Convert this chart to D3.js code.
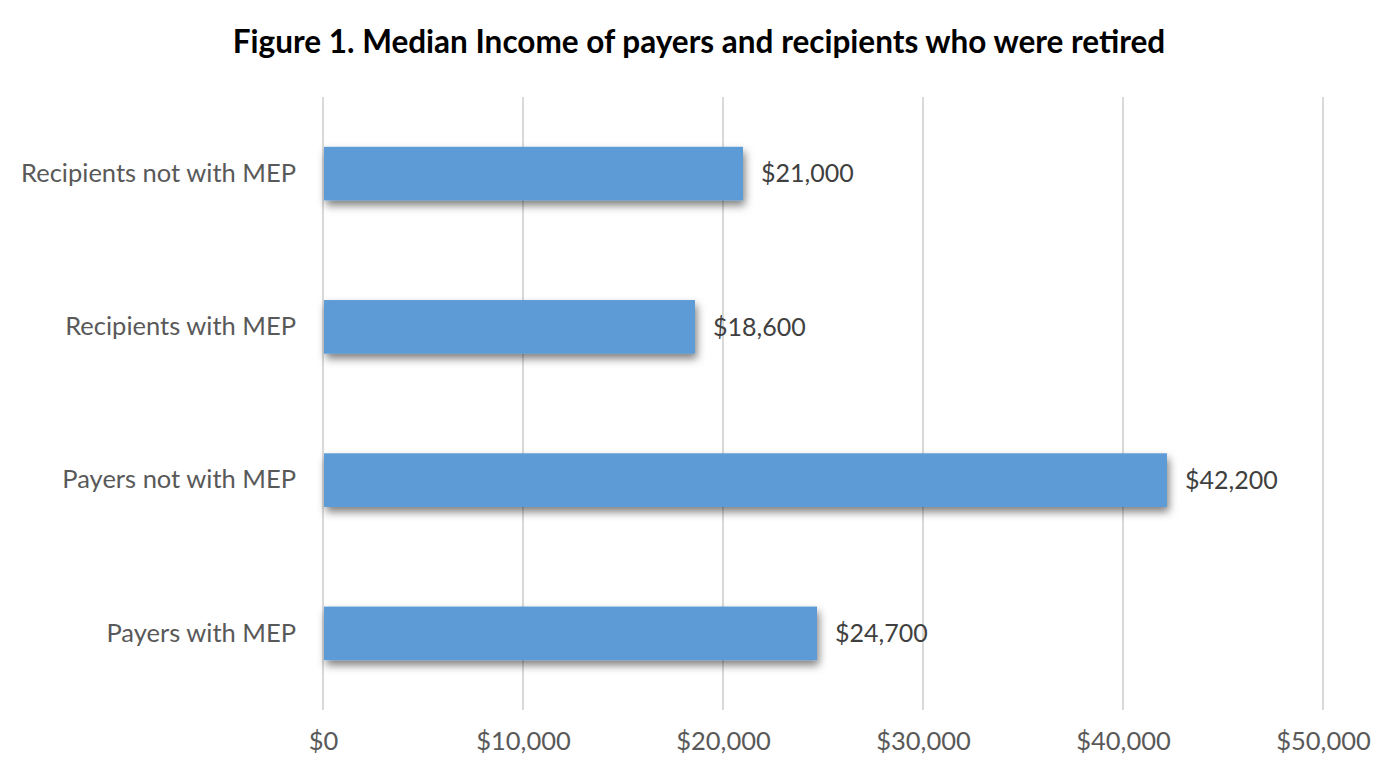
<!DOCTYPE html>
<html><head><meta charset="utf-8">
<script src="https://cdn.jsdelivr.net/npm/d3@7"></script>
<style>body{margin:0;background:#fff;} svg{display:block;}</style>
</head><body>
<script>
const categories = ["Recipients not with MEP","Recipients with MEP","Payers not with MEP","Payers with MEP"];
const values = [21000, 18600, 42200, 24700];
const xTicks = [0,10000,20000,30000,40000,50000];
const titleText = "Figure 1. Median Income of payers and recipients who were retired";

const W=1398,H=779;
const svg=d3.select("body").append("svg").attr("width",W).attr("height",H);
const defs=svg.append("defs");
const f=defs.append("filter").attr("id","sh").attr("x","-10%").attr("y","-30%").attr("width","130%").attr("height","190%");
f.append("feDropShadow").attr("dx",2).attr("dy",5).attr("stdDeviation",4).attr("flood-color","#000").attr("flood-opacity",0.5);

const font="Lato, 'Open Sans', sans-serif";
const m={left:323,right:1323,top:97,bottom:710};
const x=d3.scaleLinear().domain([0,50000]).range([m.left,m.right]);
const y=d3.scaleBand().domain(categories).range([m.top,m.bottom]).paddingInner(0.65).paddingOuter(0.325);

svg.append("text").attr("x",699).attr("y",53).attr("text-anchor","middle")
  .style("font-family",font).style("font-weight","bold").style("font-size","31.5px").style("fill","#000").text(titleText);

// gridlines
svg.append("g").selectAll("line").data(xTicks).join("line")
  .attr("x1",d=>x(d)).attr("x2",d=>x(d)).attr("y1",m.top).attr("y2",m.bottom)
  .attr("stroke","#d9d9d9").attr("stroke-width",2);

// x axis labels
const xa=svg.append("g").attr("transform",`translate(0,${m.bottom})`)
  .call(d3.axisBottom(x).tickValues(xTicks).tickSize(0).tickPadding(22).tickFormat(d=>"$"+d3.format(",")(d)));
xa.select(".domain").remove();
xa.selectAll("text").style("font-family",font).style("font-size","25.5px").style("fill","#595959");

// y axis labels
const ya=svg.append("g").attr("transform",`translate(${m.left},0)`)
  .call(d3.axisLeft(y).tickSize(0).tickPadding(27));
ya.select(".domain").remove();
ya.selectAll("text").style("font-family",font).style("font-size","25.5px").style("fill","#595959");

// bars
svg.append("g").selectAll("rect").data(values).join("rect")
  .attr("x",x(0)+1).attr("y",(d,i)=>y(categories[i]))
  .attr("width",d=>x(d)-x(0)-1).attr("height",y.bandwidth())
  .attr("fill","#5b9bd5").attr("filter","url(#sh)");

// labels
svg.append("g").selectAll("text").data(values).join("text")
  .attr("x",d=>x(d)+18).attr("y",(d,i)=>y(categories[i])+y.bandwidth()/2).attr("dy","0.35em")
  .style("font-family",font).style("font-size","25px").style("fill","#404040")
  .text(d=>"$"+d3.format(",")(d));
</script>
</body></html>
